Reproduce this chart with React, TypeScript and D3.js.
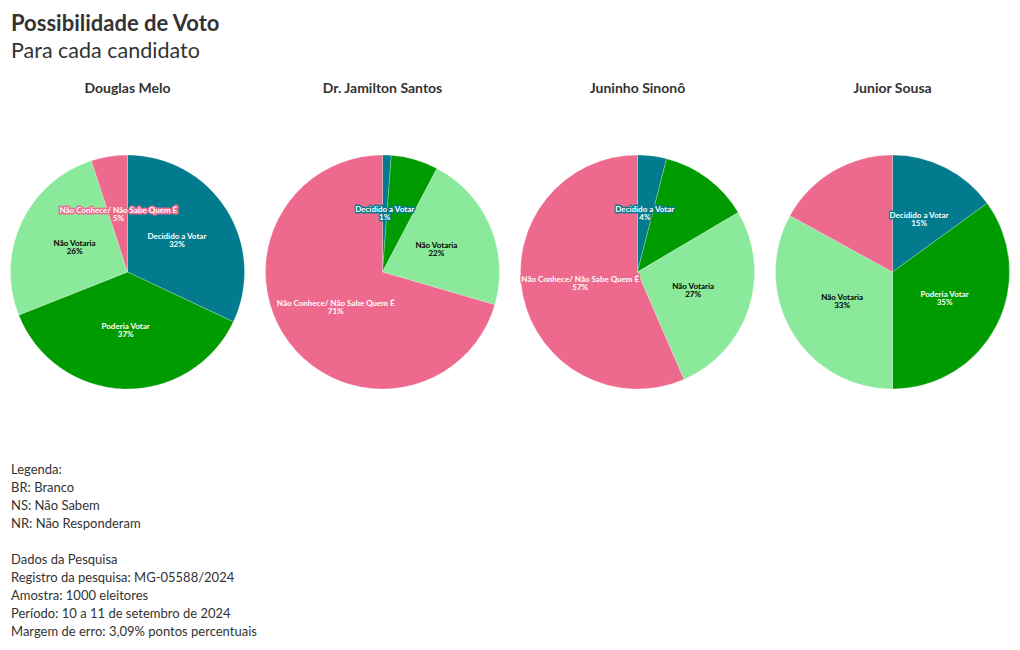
import { useEffect, useRef } from 'react';
import * as d3 from 'd3';

const candidates = ['Douglas Melo', 'Dr. Jamilton Santos', 'Juninho Sinonô', 'Junior Sousa'];
const categories = ['Decidido a Votar', 'Poderia Votar', 'Não Votaria', 'Não Conhece/ Não Sabe Quem É'];

// one array per candidate, same order as categories
const douglasValues = [32, 37, 26, 5];
const jamiltonValues = [1.2, 6.5, 21.8, 70.5];
const juninhoValues = [4, 12.5, 27, 56.5];
const juniorValues = [15, 35, 33, 17];
const candidateValues = [douglasValues, jamiltonValues, juninhoValues, juniorValues];

const sliceColors = ['#027b8e', '#009b00', '#8ae99a', '#ed6a8e'];
const labelColors = ['#ffffff', '#ffffff', '#000000', '#ffffff'];

const footerLines = [
  'Legenda:',
  'BR: Branco',
  'NS: Não Sabem',
  'NR: Não Responderam',
  '',
  'Dados da Pesquisa',
  'Registro da pesquisa: MG-05588/2024',
  'Amostra: 1000 eleitores',
  'Período: 10 a 11 de setembro de 2024',
  'Margem de erro: 3,09% pontos percentuais',
];

const W = 1020;
const H = 650;
const FONT = 'Lato, "Source Sans Pro", sans-serif';

function App() {
  const svgRef = useRef(null);

  useEffect(() => {
    const svg = d3.select(svgRef.current);
    svg.selectAll('*').remove();

    // header
    svg.append('text')
      .attr('x', 11).attr('y', 31)
      .attr('font-size', 22).attr('font-weight', 700)
      .attr('fill', '#333').text('Possibilidade de Voto');
    svg.append('text')
      .attr('x', 11).attr('y', 58)
      .attr('font-size', 21.5).attr('font-weight', 400)
      .attr('fill', '#333').text('Para cada candidato');

    const xBand = d3.scaleBand().domain(candidates).range([0, W]);
    const radius = 117;
    const cy = 272;

    const pie = d3.pie().value((d) => d.value).sort(null);
    const arc = d3.arc().innerRadius(0).outerRadius(radius);
    const labelArc = d3.arc().innerRadius(radius * 0.5).outerRadius(radius * 0.5);

    candidates.forEach((name, ci) => {
      const cx = xBand(name) + xBand.bandwidth() / 2;
      const data = categories.map((c, i) => ({ category: c, value: candidateValues[ci][i], idx: i }));
      const arcs = pie(data);

      svg.append('text')
        .attr('x', cx).attr('y', 93)
        .attr('text-anchor', 'middle')
        .attr('font-size', 14).attr('font-weight', 700)
        .attr('fill', '#333').text(name);

      const g = svg.append('g').attr('transform', `translate(${cx},${cy})`);

      g.selectAll('path.slice')
        .data(arcs)
        .enter()
        .append('path')
        .attr('class', 'slice')
        .attr('d', arc)
        .attr('fill', (d) => sliceColors[d.data.idx])
        .attr('stroke', '#fff')
        .attr('stroke-width', 0.4)
        .attr('stroke-opacity', 0.6);

      // labels, hidden when they collide with an earlier one
      const placed = [];
      arcs.forEach((d) => {
        const [lx, ly] = labelArc.centroid(d);
        const lg = g.append('g').attr('transform', `translate(${lx},${ly})`);
        const t = lg.append('text')
          .attr('text-anchor', 'middle')
          .attr('font-size', 8).attr('font-weight', 700)
          .attr('fill', labelColors[d.data.idx])
          .attr('stroke', sliceColors[d.data.idx])
          .attr('stroke-width', 3)
          .attr('stroke-linejoin', 'round')
          .attr('paint-order', 'stroke');
        t.append('tspan').attr('x', 0).attr('y', -1.5).text(d.data.category);
        t.append('tspan').attr('x', 0).attr('y', 6.5).text(`${Math.round(d.data.value)}%`);

        const b = t.node().getBBox();
        const box = { x0: lx + b.x, x1: lx + b.x + b.width, y0: ly + b.y, y1: ly + b.y + b.height };
        const hit = placed.some((p) => box.x0 < p.x1 && box.x1 > p.x0 && box.y0 < p.y1 && box.y1 > p.y0);
        if (hit) {
          lg.remove();
        } else {
          placed.push(box);
        }
      });
    });

    // footer notes
    const footer = svg.append('text')
      .attr('font-size', 13).attr('fill', '#333');
    footerLines.forEach((line, i) => {
      footer.append('tspan')
        .attr('x', 11)
        .attr('y', 474 + i * 18)
        .text(line);
    });
  }, []);

  return (
    <div style={{ position: 'absolute', left: 0, top: 0 }}>
      <svg ref={svgRef} width={W} height={H} style={{ fontFamily: FONT, display: 'block' }} />
    </div>
  );
}

export default App;
